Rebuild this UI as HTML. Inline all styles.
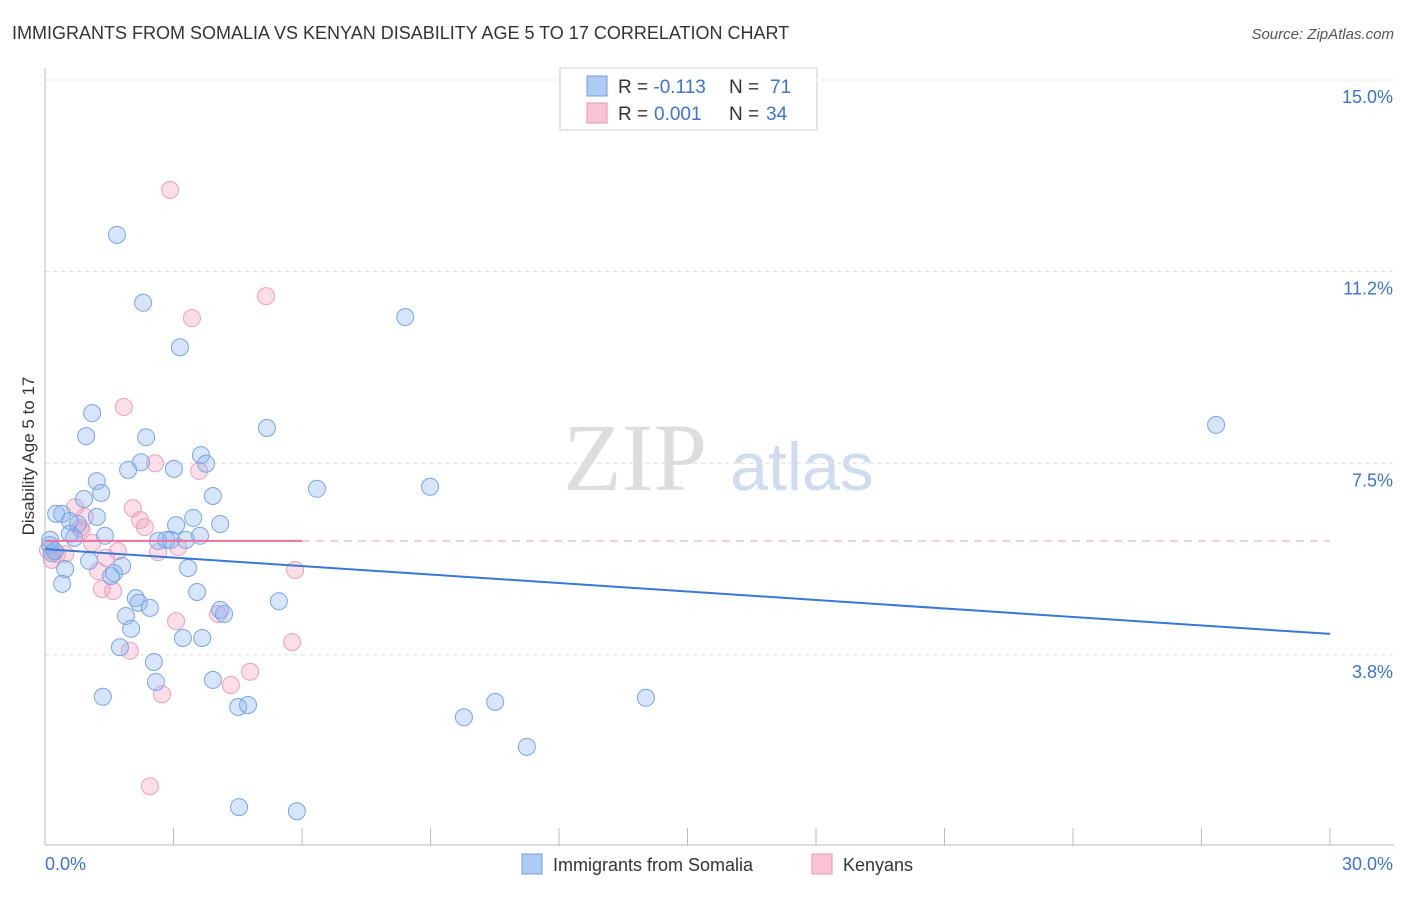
<!DOCTYPE html>
<html><head><meta charset="utf-8"><style>
body{margin:0;background:#fff;font-family:"Liberation Sans",sans-serif}
</style></head><body>
<svg id="c" width="1406" height="892" xmlns="http://www.w3.org/2000/svg" style="font-family:'Liberation Sans',sans-serif">
<text x="12" y="39" font-size="18" fill="#333">IMMIGRANTS FROM SOMALIA VS KENYAN DISABILITY AGE 5 TO 17 CORRELATION CHART</text>
<text x="1394" y="39" font-size="15" fill="#555" text-anchor="end" font-style="italic">Source: ZipAtlas.com</text>
<text x="34" y="456" font-size="17" fill="#333" text-anchor="middle" transform="rotate(-90 34 456)">Disability Age 5 to 17</text>
<g><text x="635" y="490" font-size="96" fill="#ddd" font-family="Liberation Serif" text-anchor="middle">ZIP</text><text x="802" y="490" font-size="68" fill="#cfdcf0" text-anchor="middle">atlas</text></g>
<g id="grid"></g><g id="axes"></g><g id="marks"></g>
<g>
<rect x="560" y="68" width="257" height="62" fill="#fff" stroke="#ccc"/>
<rect x="587" y="76" width="20" height="20" fill="#aecbf5" stroke="#6f9de0"/>
<rect x="587" y="103" width="20" height="20" fill="#f9c3d5" stroke="#e896b4"/>
<text x="618" y="93" font-size="19" fill="#333">R = <tspan fill="#3a73d0">-0.113</tspan></text>
<text x="729" y="93" font-size="19" fill="#333">N = <tspan x="770" fill="#3a73d0">71</tspan></text>
<text x="618" y="120" font-size="19" fill="#333">R = <tspan x="654" fill="#3a73d0">0.001</tspan></text>
<text x="729" y="120" font-size="19" fill="#333">N = <tspan x="766" fill="#3a73d0">34</tspan></text>
</g>
<g>
<rect x="522" y="854" width="20" height="20" fill="#aecbf5" stroke="#6f9de0"/>
<text x="553" y="871" font-size="18" fill="#333">Immigrants from Somalia</text>
<rect x="812" y="854" width="20" height="20" fill="#f9c3d5" stroke="#e896b4"/>
<text x="843" y="871" font-size="18" fill="#333">Kenyans</text>
</g>
</svg>
<script>
const yTicks=[15.0,11.25,7.5,3.75];
const yTickLabels=["15.0%","11.2%","7.5%","3.8%"];
const xTickVals=[0,3,6,9,12,15,18,21,24,27,30];
const somaliaX=[1.68,2.29,3.15,8.41,1.10,0.96,2.36,5.18,27.34,3.64,3.76,2.24,1.94,3.01,1.21,1.31,0.91,3.92,6.35,8.99,0.26,0.40,0.58,0.77,1.21,3.46,4.09,3.06,0.58,1.40,0.68,2.64,2.83,2.94,3.29,3.62,0.12,0.16,1.03,0.47,1.80,1.61,1.54,3.34,0.40,2.12,2.19,2.45,3.55,5.46,1.89,2.01,4.09,4.18,3.22,3.67,1.75,2.54,2.59,3.92,1.35,4.51,4.74,9.78,10.51,14.03,11.25,4.53,5.88,0.12,0.23];
const somaliaY=[11.97,10.64,9.77,10.36,8.48,8.03,8.01,8.19,8.25,7.66,7.49,7.52,7.37,7.39,7.15,6.92,6.80,6.86,7.00,7.04,6.51,6.51,6.37,6.31,6.45,6.43,6.31,6.29,6.12,6.08,6.04,5.98,6.00,6.00,6.00,6.08,5.90,5.74,5.59,5.43,5.49,5.35,5.29,5.45,5.14,4.86,4.77,4.67,4.98,4.80,4.51,4.26,4.63,4.55,4.08,4.08,3.90,3.61,3.22,3.26,2.93,2.73,2.77,2.53,2.83,2.91,1.95,0.77,0.69,6.00,5.78];
const kenyaX=[2.92,5.16,3.43,1.84,3.60,2.57,2.05,0.70,2.22,2.33,0.93,1.10,1.70,0.82,0.47,0.28,0.16,1.42,3.11,2.64,1.24,5.84,1.33,1.59,3.06,4.04,5.77,1.98,4.79,4.34,2.73,2.45,0.07,0.86];
const kenyaY=[12.85,10.77,10.34,8.60,7.35,7.50,6.62,6.64,6.39,6.25,6.45,5.94,5.78,6.23,5.72,5.72,5.61,5.65,5.86,5.76,5.39,5.41,5.04,5.00,4.41,4.55,4.00,3.83,3.42,3.16,2.98,1.18,5.80,6.19];
const somaliaTrend=[5.82,4.16];
const kenyaTrend=[5.98,5.98];
const X=v=>45+v*(1285/30), Y=v=>80+(15-v)*51.1;
const NS="http://www.w3.org/2000/svg";
function mk(p,t,a){const e=document.createElementNS(NS,t);for(const k in a)e.setAttribute(k,a[k]);document.getElementById(p).appendChild(e);return e;}
yTicks.forEach((v,i)=>{
 const g=mk('grid','line',{x1:45,x2:1394,y1:Y(v),y2:Y(v),stroke:'#ddd','stroke-dasharray':'4 4'});
 
 
 const t=mk('axes','text',{x:1393,y:Y(v)+23,'font-size':18,fill:'#3a73d0','text-anchor':'end'});
 t.textContent=yTickLabels[i];
 
 
});
const ax=mk('axes','line',{x1:45,x2:45,y1:68,y2:845,stroke:'#bbb'});


const bx=mk('axes','line',{x1:45,x2:1394,y1:845,y2:845,stroke:'#bbb'});


xTickVals.forEach(v=>{
 const l=mk('axes','line',{x1:X(v),x2:X(v),y1:828,y2:845,stroke:'#bbb'});
 
 
});
const xl0=mk('axes','text',{x:45,y:870,'font-size':18,fill:'#3a73d0'});xl0.textContent=xTickVals[0].toFixed(1)+'%';


const xl1=mk('axes','text',{x:1393,y:870,'font-size':18,fill:'#3a73d0','text-anchor':'end'});xl1.textContent=xTickVals[xTickVals.length-1].toFixed(1)+'%';


kenyaX.forEach((x,i)=>{
 const c=mk('marks','circle',{cx:X(x),cy:Y(kenyaY[i]),r:8.5,fill:'rgba(244,160,190,0.35)',stroke:'#eaa0bc','stroke-width':1});
 
 
});
somaliaX.forEach((x,i)=>{
 const c=mk('marks','circle',{cx:X(x),cy:Y(somaliaY[i]),r:8.5,fill:'rgba(140,180,240,0.35)',stroke:'#7aa5e3','stroke-width':1});
 
 
});
const t1=mk('marks','line',{x1:X(0),x2:X(30),y1:Y(somaliaTrend[0]),y2:Y(somaliaTrend[1]),stroke:'#3a78d8','stroke-width':2});


const t2=mk('marks','line',{x1:X(0),x2:X(6),y1:Y(kenyaTrend[0]),y2:Y(kenyaTrend[0]+(kenyaTrend[1]-kenyaTrend[0])*0.2),stroke:'#e8709a','stroke-width':2});


const t3=mk('marks','line',{x1:X(6),x2:X(30),y1:Y(kenyaTrend[0]),y2:Y(kenyaTrend[1]),stroke:'#f0a8c0','stroke-width':1.2,'stroke-dasharray':'8 6'});


</script>
</body></html>
